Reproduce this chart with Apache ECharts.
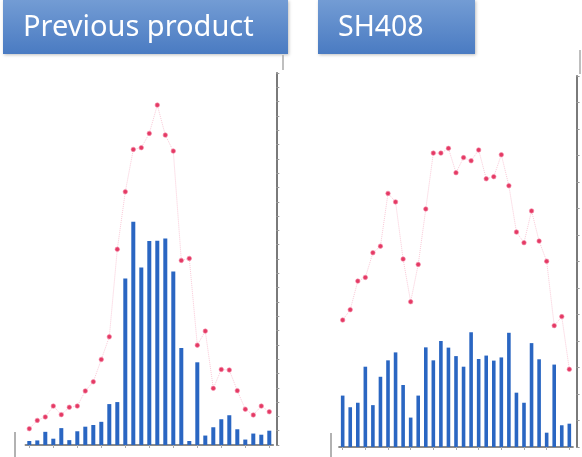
<!DOCTYPE html>
<html>
<head>
<meta charset="utf-8">
<script src="https://cdn.jsdelivr.net/npm/echarts@6/dist/echarts.min.js"></script>
<style>
html,body{margin:0;padding:0;background:#fff;}
#c{width:582px;height:457px;}
</style>
</head>
<body>
<div id="c"></div>
<script>
// ---- data ----
const categories = Array.from({length:31}, (_, i) => String(i + 1));
const prevTitle = "Previous product";
const shTitle = "SH408";
const prevBars = [1.4,1.6,4.6,2.2,5.9,1.7,4.8,6.4,7.0,8.1,14.3,15.0,58.2,78.0,62.0,71.3,71.4,72.2,60.6,33.9,1.4,28.9,3.3,6.2,9.0,10.4,5.5,1.9,4.0,3.6,5.0];
const prevLine = [5.7,8.6,9.8,13.6,10.6,13.2,13.6,18.9,22.1,29.9,37.8,68.4,88.5,103.3,103.9,108.9,118.8,108.3,102.7,64.5,65.2,34.9,39.8,19.8,26.4,26.2,19.0,12.5,10.5,13.6,11.6];
const shBars = [19.4,15.0,16.7,30.3,15.8,26.5,32.7,35.7,23.4,11.1,19.4,37.6,32.7,40.0,37.5,34.3,30.3,43.3,33.2,34.5,32.6,33.8,43.1,20.5,16.7,39.2,33.1,5.4,31.1,8.2,8.8];
const shLine = [47.9,51.8,62.6,64.0,73.3,75.8,95.7,92.5,70.9,54.8,68.9,89.8,110.9,110.9,112.7,103.5,109.2,108.0,112.1,101.2,102.0,110.3,98.6,81.1,77.1,89.1,77.7,70.1,45.8,49.2,29.3];

const chart = echarts.init(document.getElementById('c'), null, {renderer:'canvas'});

const barColor = '#2a66c2';
const lineStyle = {color:'rgba(240,120,155,0.4)', width:1, type:'dotted'};
const dotStyle = {color:'#e43a64', borderColor:'rgba(245,140,170,0.6)', borderWidth:1};

function xAx(gi){
  return {
    type:'category', gridIndex:gi, data:categories, boundaryGap:true,
    axisLine:{show:true, lineStyle:{color:'#666', width:1.5}},
    axisTick:{show:true, alignWithLabel:true, length:3, lineStyle:{color:'#aaa'}},
    axisLabel:{show:false}, splitLine:{show:false}
  };
}
function yAx(gi, max, interval, offset){
  return {
    type:'value', gridIndex:gi, position:'right', offset:offset, min:0, max:max, interval:interval,
    axisLine:{show:true, lineStyle:{color:'#7a7a7a', width:2}},
    axisTick:{show:true, length:3, lineStyle:{color:'#999'}},
    axisLabel:{show:false}, splitLine:{show:false}
  };
}
const boxFill = new echarts.graphic.LinearGradient(0,0,0,1,[{offset:0,color:'#739cd4'},{offset:1,color:'#4a7bc2'}]);

chart.setOption({
  animation:false,
  backgroundColor:'#fff',
  grid:[
    {left:25.3, width:248, top:73, height:372},
    {left:338.9, width:234.2, top:76, height:371}
  ],
  xAxis:[xAx(0), xAx(1)],
  yAxis:[yAx(0,130,5,3), yAx(1,140,10,3.5)],
  series:[
    {type:'bar', xAxisIndex:0, yAxisIndex:0, data:prevBars, barWidth:4, itemStyle:{color:barColor}},
    {type:'line', xAxisIndex:0, yAxisIndex:0, data:prevLine, symbol:'circle', symbolSize:4.5, lineStyle:lineStyle, itemStyle:dotStyle, z:3},
    {type:'bar', xAxisIndex:1, yAxisIndex:1, data:shBars, barWidth:3.6, itemStyle:{color:barColor}},
    {type:'line', xAxisIndex:1, yAxisIndex:1, data:shLine, symbol:'circle', symbolSize:4.5, lineStyle:lineStyle, itemStyle:dotStyle, z:3}
  ],
  graphic:[
    {type:'rect', shape:{x:3,y:0,width:285,height:54}, style:{fill:boxFill, shadowBlur:3, shadowColor:'rgba(0,0,0,0.25)', shadowOffsetX:1, shadowOffsetY:1}},
    {type:'text', x:23, y:28, style:{text:prevTitle, fill:'#fff', font:'29px "Noto Sans", sans-serif', verticalAlign:'middle'}},
    {type:'rect', shape:{x:318,y:0,width:157,height:54}, style:{fill:boxFill, shadowBlur:3, shadowColor:'rgba(0,0,0,0.25)', shadowOffsetX:1, shadowOffsetY:1}},
    {type:'text', x:338, y:28, style:{text:shTitle, fill:'#fff', font:'28.5px "Noto Sans", sans-serif', verticalAlign:'middle'}},
    {type:'line', shape:{x1:15,y1:432,x2:15,y2:457}, style:{stroke:'#999', lineWidth:1.5}},
    {type:'line', shape:{x1:331,y1:433,x2:331,y2:457}, style:{stroke:'#999', lineWidth:1.5}},
    {type:'line', shape:{x1:283,y1:55,x2:283,y2:70}, style:{stroke:'#aaa', lineWidth:1.5}},
    {type:'line', shape:{x1:580,y1:50,x2:580,y2:74}, style:{stroke:'#aaa', lineWidth:1.5}}
  ]
});
</script>
</body>
</html>
